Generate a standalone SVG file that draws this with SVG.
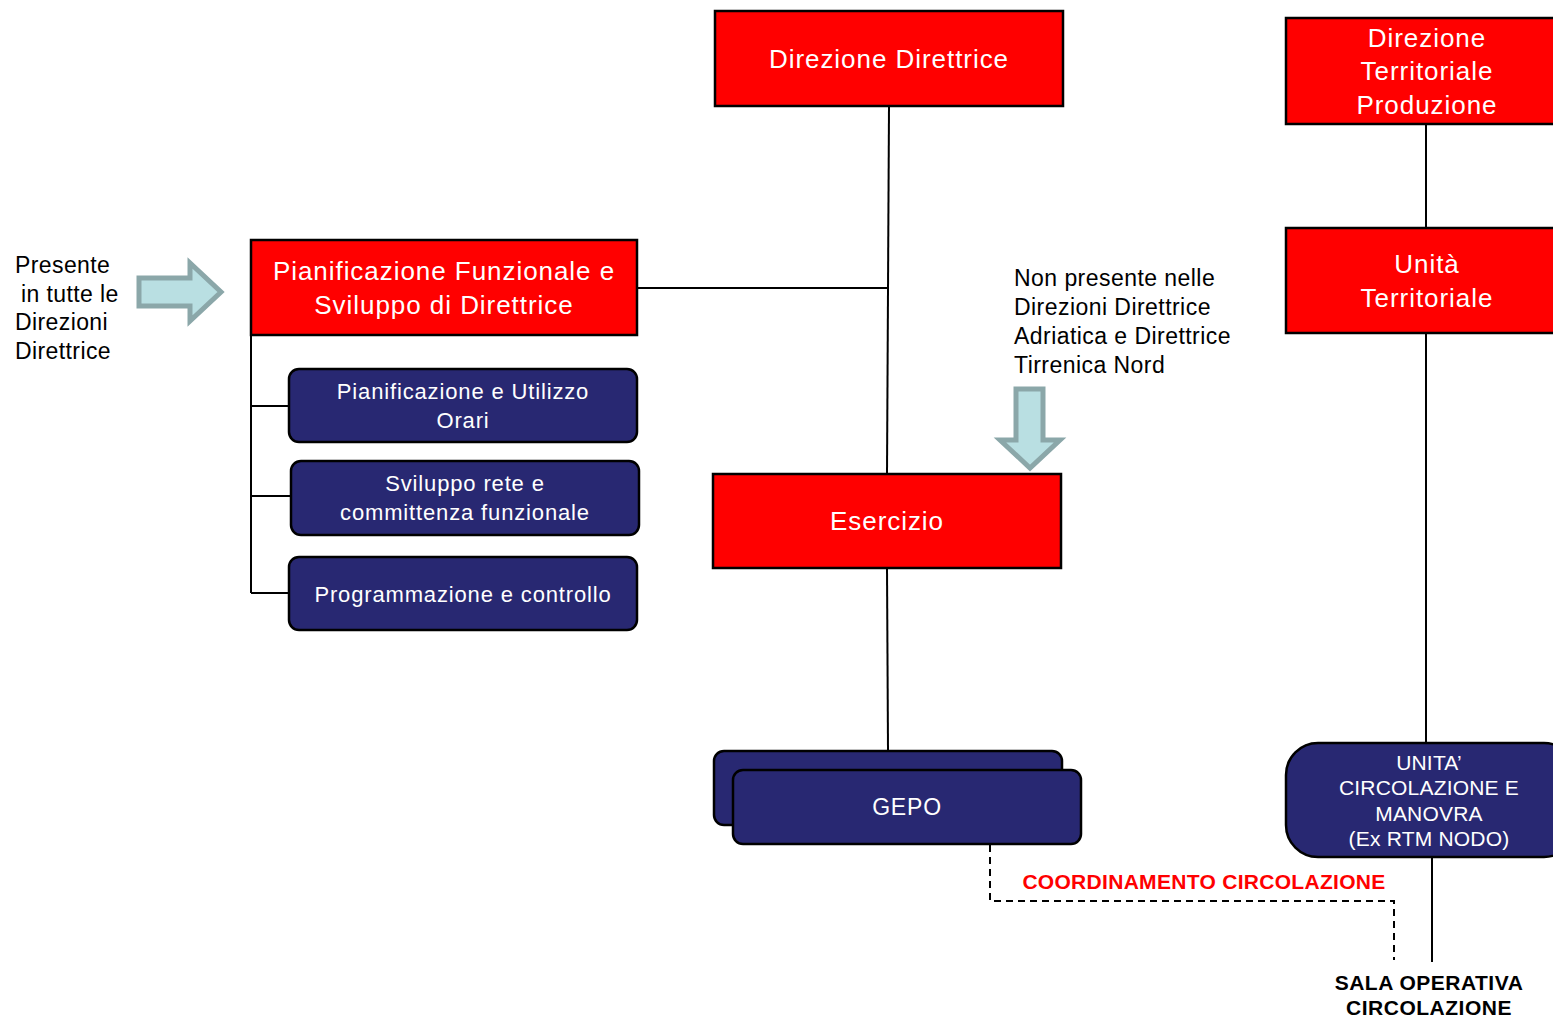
<svg xmlns="http://www.w3.org/2000/svg" width="1553" height="1018" viewBox="0 0 1553 1018">
<style>
.red{fill:#FF0000;stroke:#000;stroke-width:2.5}
.blue{fill:#282872;stroke:#000;stroke-width:2.5}
.wt{fill:#fff;font-family:"Liberation Sans",Arial,sans-serif;text-anchor:middle}
.big{font-size:26px;letter-spacing:0.95px}
.mid{font-size:22px;letter-spacing:0.85px}
.bt{fill:#000;font-family:"Liberation Sans",Arial,sans-serif}
.ln{stroke:#000;stroke-width:2;fill:none}
.arr{fill:#B9DFE2;stroke:#8BA7A9;stroke-width:5}
</style>
<rect width="1553" height="1018" fill="#fff"/>
<g id="connectors">
<path class="ln" d="M889,106 L887,474"/>
<path class="ln" d="M637,288 L889,288"/>
<path class="ln" d="M887,568 L888,751"/>
<path class="ln" d="M251,335 L251,593 M251,406 L289,406 M251,496 L291,496 M251,593 L289,593"/>
<path class="ln" d="M1426,124 L1426,228"/>
<path class="ln" d="M1426,333 L1426,744"/>
<path class="ln" d="M1432,857 L1432,962"/>
<path class="ln" d="M990,845 L990,901 L1394,901 L1394,960" stroke-dasharray="7,5"/>
</g>
<g id="n-direzione-direttrice">
<rect class="red" x="715" y="11" width="348" height="95"/>
<text class="wt big" x="889" y="68">Direzione Direttrice</text>
</g>
<g id="n-pianificazione-funzionale">
<rect class="red" x="251" y="240" width="386" height="95"/>
<text class="wt big" x="444" y="280">Pianificazione Funzionale e</text>
<text class="wt big" x="444" y="314">Sviluppo di Direttrice</text>
</g>
<g id="n-pianificazione-orari">
<rect class="blue" x="289" y="369" width="348" height="73" rx="10"/>
<text class="wt mid" x="463" y="399">Pianificazione e Utilizzo</text>
<text class="wt mid" x="463" y="428">Orari</text>
</g>
<g id="n-sviluppo-rete">
<rect class="blue" x="291" y="461" width="348" height="74" rx="10"/>
<text class="wt mid" x="465" y="491">Sviluppo rete e</text>
<text class="wt mid" x="465" y="520">committenza funzionale</text>
</g>
<g id="n-programmazione">
<rect class="blue" x="289" y="557" width="348" height="73" rx="10"/>
<text class="wt mid" x="463" y="602">Programmazione e controllo</text>
</g>
<g id="n-esercizio">
<rect class="red" x="713" y="474" width="348" height="94"/>
<text class="wt big" x="887" y="530">Esercizio</text>
</g>
<g id="n-gepo">
<rect class="blue" x="714" y="751" width="348" height="74" rx="10"/>
<rect class="blue" x="733" y="770" width="348" height="74" rx="10"/>
<text class="wt" x="907" y="815" font-size="23" letter-spacing="0.8">GEPO</text>
</g>
<g id="n-direzione-territoriale">
<rect class="red" x="1286" y="18" width="280" height="106"/>
<text class="wt big" x="1427" y="47">Direzione</text>
<text class="wt big" x="1427" y="80">Territoriale</text>
<text class="wt big" x="1427" y="114">Produzione</text>
</g>
<g id="n-unita-territoriale">
<rect class="red" x="1286" y="228" width="280" height="105"/>
<text class="wt big" x="1427" y="273">Unità</text>
<text class="wt big" x="1427" y="307">Territoriale</text>
</g>
<g id="n-unita-circolazione">
<rect class="blue" x="1286" y="743" width="290" height="114" rx="32"/>
<g class="wt" font-size="21" letter-spacing="0.2">
<text x="1429" y="770">UNITA’</text>
<text x="1429" y="795">CIRCOLAZIONE E</text>
<text x="1429" y="821">MANOVRA</text>
<text x="1429" y="846">(Ex RTM NODO)</text>
</g>
</g>
<g id="n-coordinamento">
<text x="1204" y="889" font-size="21" letter-spacing="0.3" font-weight="bold" fill="#FF0000" font-family="'Liberation Sans',Arial,sans-serif" text-anchor="middle">COORDINAMENTO CIRCOLAZIONE</text>
</g>
<g id="n-sala-operativa">
<text class="bt" x="1429" y="990" font-size="21" letter-spacing="0.5" font-weight="bold" text-anchor="middle">SALA OPERATIVA</text>
<text class="bt" x="1429" y="1015" font-size="21" letter-spacing="0.5" font-weight="bold" text-anchor="middle">CIRCOLAZIONE</text>
</g>
<g id="n-presente-note">
<text class="bt" font-size="23" letter-spacing="0.4"><tspan x="15" y="273">Presente</tspan><tspan x="21" y="302">in tutte le</tspan><tspan x="15" y="330">Direzioni</tspan><tspan x="15" y="359">Direttrice</tspan></text>
<path class="arr" d="M139,278 L190,278 L190,263 L221,292 L190,321 L190,306 L139,306 Z"/>
</g>
<g id="n-non-presente-note">
<text class="bt" font-size="23" letter-spacing="0.45"><tspan x="1014" y="286">Non presente nelle</tspan><tspan x="1014" y="315">Direzioni Direttrice</tspan><tspan x="1014" y="344">Adriatica e Direttrice</tspan><tspan x="1014" y="373">Tirrenica Nord</tspan></text>
<path class="arr" d="M1016,389 L1043,389 L1043,440 L1060,440 L1030,468 L1000,440 L1016,440 Z"/>
</g>
</svg>
